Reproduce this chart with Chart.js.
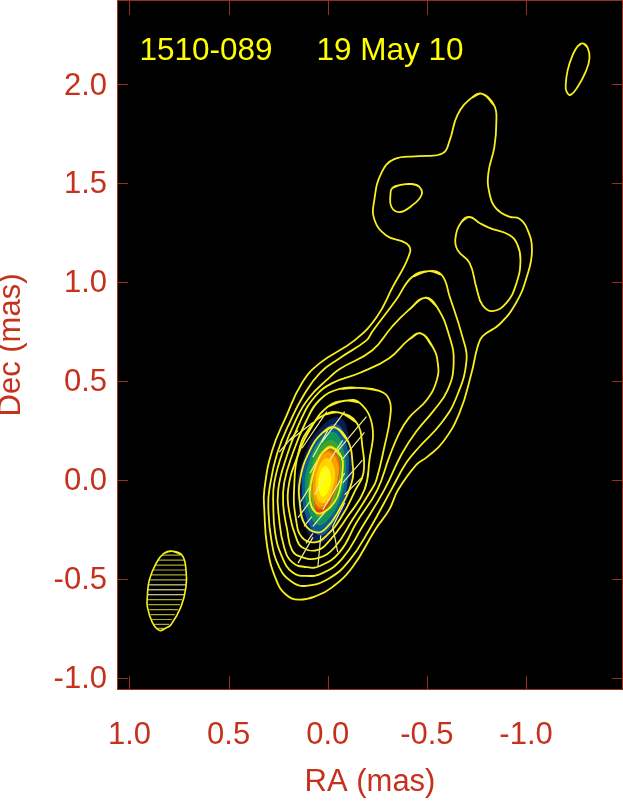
<!DOCTYPE html>
<html>
<head>
<meta charset="utf-8">
<title>1510-089</title>
<script src="https://cdn.jsdelivr.net/npm/chart.js@4/dist/chart.umd.min.js"></script>
<style>
body { margin: 0; background: #fff; }
canvas { display: block; }
</style>
</head>
<body>
<canvas id="map" width="623" height="801"></canvas>
<script>
const sourceName = '1510-089';
const epochName = '19 May 10';
const raTicks = [1.0, 0.5, 0.0, -0.5, -1.0];
const decTicks = [2.0, 1.5, 1.0, 0.5, 0.0, -0.5, -1.0];

// contours, [RA, Dec] in mas, outermost first
const contour1 = [[-0.78,1.95],[-0.84,1.89],[-0.85,1.80],[-0.84,1.68],[-0.81,1.55],[-0.815,1.45],[-0.85,1.37],[-0.915,1.33],[-0.965,1.32],[-1.005,1.27],[-1.03,1.16],[-1.005,1.03],[-0.95,0.895],[-0.865,0.785],[-0.78,0.725],[-0.755,0.67],[-0.725,0.54],[-0.665,0.34],[-0.58,0.19],[-0.50,0.115],[-0.445,0.075],[-0.355,-0.05],[-0.31,-0.15],[-0.24,-0.25],[-0.125,-0.44],[-0.025,-0.54],[0.055,-0.585],[0.145,-0.605],[0.21,-0.58],[0.26,-0.505],[0.305,-0.34],[0.32,-0.15],[0.32,-0.05],[0.28,0.15],[0.21,0.32],[0.13,0.49],[0.04,0.59],[-0.135,0.705],[-0.245,0.82],[-0.325,0.97],[-0.415,1.15],[-0.395,1.195],[-0.295,1.235],[-0.235,1.315],[-0.235,1.415],[-0.27,1.55],[-0.335,1.62],[-0.46,1.635],[-0.58,1.65],[-0.615,1.715],[-0.655,1.845],[-0.725,1.93]];
const contour1Hole = [[-0.367,1.49],[-0.422,1.495],[-0.462,1.48],[-0.473,1.439],[-0.422,1.384],[-0.362,1.353],[-0.321,1.379],[-0.316,1.439],[-0.326,1.475]];
const contour2Right = [[-0.715,1.328],[-0.765,1.298],[-0.815,1.273],[-0.916,1.237],[-0.957,1.187],[-0.972,1.111],[-0.952,0.995],[-0.901,0.894],[-0.831,0.853],[-0.78,0.884],[-0.75,0.97],[-0.715,1.096],[-0.654,1.162],[-0.644,1.222],[-0.674,1.303]];
const contour2 = [[-0.51,1.055],[-0.575,1.035],[-0.615,0.925],[-0.68,0.72],[-0.70,0.605],[-0.65,0.42],[-0.575,0.29],[-0.46,0.165],[-0.395,0.085],[-0.32,-0.05],[-0.21,-0.25],[-0.11,-0.405],[-0.01,-0.495],[0.11,-0.535],[0.18,-0.515],[0.245,-0.44],[0.285,-0.30],[0.30,-0.135],[0.295,-0.05],[0.255,0.135],[0.185,0.305],[0.12,0.43],[0.04,0.54],[-0.06,0.615],[-0.195,0.705],[-0.225,0.75],[-0.345,0.91],[-0.425,1.025]];
const contour3 = [[-0.49,0.92],[-0.55,0.875],[-0.615,0.72],[-0.635,0.59],[-0.605,0.455],[-0.53,0.345],[-0.45,0.25],[-0.375,0.135],[-0.285,-0.05],[-0.175,-0.235],[-0.075,-0.395],[0.025,-0.47],[0.11,-0.485],[0.18,-0.465],[0.23,-0.39],[0.265,-0.27],[0.275,-0.115],[0.27,-0.015],[0.23,0.135],[0.16,0.305],[0.09,0.42],[0.005,0.505],[-0.06,0.56],[-0.225,0.655],[-0.325,0.775],[-0.41,0.86]];
const contour4 = [[-0.47,0.74],[-0.53,0.67],[-0.555,0.59],[-0.55,0.505],[-0.50,0.405],[-0.41,0.315],[-0.36,0.235],[-0.31,0.115],[-0.25,-0.05],[-0.145,-0.215],[-0.06,-0.365],[0.04,-0.435],[0.11,-0.44],[0.18,-0.415],[0.22,-0.34],[0.245,-0.20],[0.25,-0.05],[0.205,0.125],[0.135,0.305],[0.065,0.42],[-0.025,0.49],[-0.16,0.54],[-0.31,0.615],[-0.41,0.71]];
const contour5 = [[-0.16,0.465],[-0.26,0.45],[-0.31,0.405],[-0.315,0.32],[-0.285,0.165],[-0.245,0.0],[-0.22,-0.05],[-0.125,-0.20],[-0.035,-0.34],[0.05,-0.395],[0.13,-0.39],[0.18,-0.355],[0.205,-0.25],[0.225,-0.125],[0.22,-0.015],[0.18,0.125],[0.11,0.295],[0.04,0.405],[-0.06,0.46]];
const contour6 = [[-0.085,0.40],[-0.16,0.39],[-0.225,0.27],[-0.21,0.10],[-0.185,-0.05],[-0.10,-0.185],[-0.01,-0.305],[0.055,-0.355],[0.13,-0.34],[0.16,-0.29],[0.19,-0.185],[0.20,-0.05],[0.15,0.125],[0.08,0.27],[0.0,0.37]];
const contour7 = [[-0.06,0.34],[-0.145,0.29],[-0.175,0.165],[-0.18,0.035],[-0.14,-0.05],[-0.07,-0.185],[0.005,-0.28],[0.065,-0.315],[0.13,-0.29],[0.16,-0.20],[0.17,-0.05],[0.145,0.15],[0.09,0.265],[0.015,0.33]];
const contour8 = [[-0.035,0.265],[-0.10,0.20],[-0.125,0.085],[-0.12,-0.015],[-0.05,-0.165],[0.005,-0.24],[0.055,-0.265],[0.115,-0.225],[0.14,-0.125],[0.14,0.0],[0.09,0.15],[0.025,0.24]];
const contour9 = [[-0.02,0.165],[-0.07,0.115],[-0.075,0.05],[-0.06,-0.05],[-0.035,-0.11],[0.025,-0.165],[0.065,-0.16],[0.09,-0.10],[0.085,-0.015],[0.055,0.085],[0.025,0.14]];
const contours = [contour1, contour1Hole, contour2Right, contour2, contour3, contour4, contour5, contour6, contour7, contour8, contour9];

// colour image of the core, outside in
const heat1 = [[-0.06,0.315],[-0.11,0.20],[-0.125,0.05],[-0.10,-0.10],[-0.035,-0.25],[0.04,-0.32],[0.11,-0.25],[0.155,-0.05],[0.125,0.10],[0.05,0.25]];
const heat2 = [[-0.05,0.28],[-0.095,0.175],[-0.105,0.05],[-0.08,-0.10],[-0.02,-0.23],[0.04,-0.28],[0.10,-0.21],[0.13,-0.05],[0.11,0.10],[0.03,0.24]];
const heat3 = [[-0.035,0.24],[-0.08,0.15],[-0.09,0.04],[-0.06,-0.10],[-0.01,-0.19],[0.045,-0.23],[0.09,-0.175],[0.115,-0.05],[0.095,0.09],[0.03,0.21]];
const heat4 = [[-0.025,0.20],[-0.065,0.14],[-0.08,0.04],[-0.045,-0.09],[0.0,-0.16],[0.045,-0.19],[0.08,-0.14],[0.10,-0.05],[0.08,0.075],[0.03,0.175]];
const heat5 = [[-0.02,0.175],[-0.055,0.12],[-0.065,0.04],[-0.035,-0.085],[0.015,-0.165],[0.05,-0.18],[0.08,-0.10],[0.09,-0.025],[0.07,0.075],[0.025,0.15]];
const heat6 = [[-0.015,0.155],[-0.055,0.11],[-0.06,0.035],[-0.03,-0.075],[0.015,-0.16],[0.05,-0.175],[0.07,-0.09],[0.075,-0.015],[0.055,0.075],[0.02,0.135]];
const heat7 = [[-0.015,0.15],[-0.055,0.10],[-0.055,0.03],[-0.025,-0.075],[0.015,-0.135],[0.05,-0.145],[0.07,-0.085],[0.07,-0.015],[0.05,0.075],[0.02,0.13]];
const heat8 = [[-0.01,0.14],[-0.05,0.085],[-0.05,0.0],[-0.015,-0.09],[0.03,-0.135],[0.06,-0.12],[0.075,-0.03],[0.055,0.08],[0.025,0.13]];
const heat9 = [[0.0,0.11],[-0.035,0.05],[-0.025,-0.04],[0.015,-0.115],[0.05,-0.10],[0.06,-0.01],[0.04,0.075]];
const heat10 = [[0.01,0.07],[-0.015,0.02],[-0.005,-0.05],[0.025,-0.085],[0.045,-0.05],[0.04,0.03]];
const heatLayers = [heat1, heat2, heat3, heat4, heat5, heat6, heat7, heat8, heat9, heat10];
const heatColors = ['#0a1c55', '#0b5d8f', '#12945f', '#3aa52f', '#9aa815', '#d24a08', '#e67a00', '#f7a000', '#ffd400', '#ffff00'];

// polarisation sticks, each one start and end
const sticks = [
  [[0.15,-0.42],[0.075,-0.29]], [[0.05,-0.44],[0.035,-0.28]], [[-0.05,-0.365],[-0.025,-0.235]],
  [[0.11,-0.32],[0.075,-0.27]], [[0.12,-0.235],[0.08,-0.185]], [[0.15,-0.19],[0.09,-0.11]],
  [[0.065,-0.075],[0.0,0.05]], [[0.025,-0.15],[-0.085,0.035]], [[0.075,-0.235],[0.005,-0.15]],
  [[-0.025,-0.235],[-0.085,-0.115]], [[-0.075,-0.015],[-0.175,0.10]], [[-0.085,-0.075],[-0.17,0.01]],
  [[-0.07,0.10],[-0.185,0.24]], [[-0.045,0.14],[-0.195,0.32]], [[0.03,0.19],[-0.085,0.345]],
  [[0.13,0.16],[0.005,0.345]], [[0.19,0.20],[0.075,0.29]], [[0.245,0.14],[0.15,0.25]],
  [[0.09,0.035],[0.05,0.10]], [[0.075,0.115],[0.0,0.25]], [[-0.01,0.10],[-0.075,0.20]],
  [[0.14,-0.115],[0.09,-0.035]]
];

// beam in the lower left and the small ellipse in the upper right
const beamOutline = [[0.785,-0.36],[0.735,-0.38],[0.715,-0.455],[0.715,-0.54],[0.74,-0.64],[0.79,-0.73],[0.82,-0.75],[0.85,-0.76],[0.885,-0.72],[0.91,-0.64],[0.91,-0.59],[0.90,-0.505],[0.865,-0.42],[0.825,-0.37]];
const hatchDec = [-0.38,-0.405,-0.43,-0.455,-0.48,-0.505,-0.53,-0.555,-0.58,-0.605,-0.63,-0.655,-0.68,-0.705,-0.73,-0.75];
const hatchLeft = [0.835,0.86,0.875,0.885,0.895,0.90,0.905,0.91,0.91,0.91,0.905,0.90,0.895,0.89,0.88,0.86];
const hatchRight = [0.745,0.725,0.72,0.715,0.715,0.715,0.715,0.72,0.725,0.735,0.745,0.755,0.77,0.785,0.80,0.825];
const hatchBright = [false,false,false,false,false,false,true,true,true,false,false,false,false,false,false,false];
const smallEllipse = [[-1.285,2.205],[-1.31,2.185],[-1.32,2.13],[-1.30,2.06],[-1.26,1.985],[-1.225,1.945],[-1.205,1.96],[-1.20,1.995],[-1.21,2.07],[-1.235,2.145],[-1.26,2.19]];

const yellow = '#f7f01e';
const labelRed = '#c5311c';
const frameRed = '#96301f';

function toPoints(list) {
    return list.map(p => ({ x: p[0], y: p[1] }));
}
// wraps a little past the start so the spline has no corner at the join
function closed(list) {
    return toPoints([list[list.length - 1]].concat(list, list.slice(0, 2)));
}
function withGaps(segments) {
    let pts = [];
    segments.forEach(s => {
        pts.push({ x: s[0][0], y: s[0][1] }, { x: s[1][0], y: s[1][1] }, { x: null, y: null });
    });
    return pts;
}

// later datasets in this list end up on top
let layers = [];
heatLayers.forEach((h, i) => {
    layers.push({ data: closed(h), showLine: true, fill: 'shape', backgroundColor: heatColors[i], borderWidth: 0, tension: 0.45, pointRadius: 0 });
});
layers.push({ data: withGaps(sticks), showLine: true, borderColor: '#efef9a', borderWidth: 1.2, tension: 0, pointRadius: 0, spanGaps: false });
contours.forEach(c => {
    layers.push({ data: closed(c), showLine: true, borderColor: yellow, borderWidth: 1.8, tension: 0.45, pointRadius: 0 });
});
let hatch = hatchDec.map((d, i) => [[hatchLeft[i], d], [hatchRight[i], d]]);
layers.push({ data: withGaps(hatch.filter((h, i) => !hatchBright[i])), showLine: true, borderColor: '#a8a832', borderWidth: 1.2, tension: 0, pointRadius: 0, spanGaps: false });
layers.push({ data: withGaps(hatch.filter((h, i) => hatchBright[i])), showLine: true, borderColor: '#ffffb0', borderWidth: 1, tension: 0, pointRadius: 0, spanGaps: false });
layers.push({ data: closed(beamOutline), showLine: true, borderColor: yellow, borderWidth: 1.6, tension: 0.45, pointRadius: 0 });
layers.push({ data: closed(smallEllipse), showLine: true, borderColor: yellow, borderWidth: 1.8, tension: 0.45, pointRadius: 0 });

const frame = {
    id: 'frame',
    beforeDatasetsDraw(chart) {
        const a = chart.chartArea, c = chart.ctx;
        c.save();
        c.fillStyle = '#000';
        c.fillRect(a.left, a.top, a.right - a.left, a.bottom - a.top);
        c.restore();
    },
    afterDraw(chart) {
        const a = chart.chartArea, c = chart.ctx;
        c.save();
        c.strokeStyle = frameRed;
        c.lineWidth = 1;
        c.strokeRect(a.left - 0.5, a.top - 0.5, a.right - a.left + 1, a.bottom - a.top + 1);
        c.beginPath();
        raTicks.forEach(v => {
            let x = Math.round(chart.scales.x.getPixelForValue(v)) + 0.5;
            c.moveTo(x, a.top); c.lineTo(x, a.top + 14);
            c.moveTo(x, a.bottom); c.lineTo(x, a.bottom - 13);
        });
        decTicks.forEach(v => {
            let y = Math.round(chart.scales.y.getPixelForValue(v)) + 0.5;
            c.moveTo(a.left, y); c.lineTo(a.left + 10, y);
            c.moveTo(a.right, y); c.lineTo(a.right - 10, y);
        });
        c.stroke();
        c.fillStyle = '#ffff00';
        c.font = '31.5px "Liberation Sans"';
        c.textBaseline = 'alphabetic';
        c.fillText(sourceName, 139.5, 60);
        c.fillText(epochName, 316.5, 60);
        c.restore();
    }
};

new Chart(document.getElementById('map'), {
    type: 'scatter',
    data: { datasets: layers.reverse() },
    plugins: [frame],
    options: {
        responsive: false,
        animation: false,
        layout: { padding: { top: 1, right: 1, left: 0, bottom: 0 } },
        plugins: { legend: { display: false }, tooltip: { enabled: false } },
        scales: {
            x: {
                type: 'linear', reverse: true, min: -1.484, max: 1.058,
                grid: { display: false, drawTicks: false }, border: { display: false },
                afterBuildTicks(s) { s.ticks = raTicks.map(v => ({ value: v })); },
                afterFit(s) { s.height = 112; s.paddingLeft = 0; s.paddingRight = 0; },
                ticks: { color: labelRed, font: { family: 'Liberation Sans', size: 31 }, padding: 28, maxRotation: 0, autoSkip: false, callback: v => v.toFixed(1) },
                title: { display: true, text: 'RA (mas)', color: labelRed, font: { family: 'Liberation Sans', size: 31 }, padding: 0 }
            },
            y: {
                type: 'linear', min: -1.056, max: 2.419,
                grid: { display: false, drawTicks: false }, border: { display: false },
                afterBuildTicks(s) { s.ticks = decTicks.map(v => ({ value: v })); },
                afterFit(s) { s.width = 118; s.paddingTop = 0; s.paddingBottom = 0; },
                ticks: { color: labelRed, font: { family: 'Liberation Sans', size: 31 }, padding: 11, labelOffset: 2, autoSkip: false, callback: v => v.toFixed(1) },
                title: { display: true, text: 'Dec (mas)', color: labelRed, font: { family: 'Liberation Sans', size: 31 }, padding: { top: -7, bottom: 0 } }
            }
        }
    }
});
</script>
</body>
</html>
